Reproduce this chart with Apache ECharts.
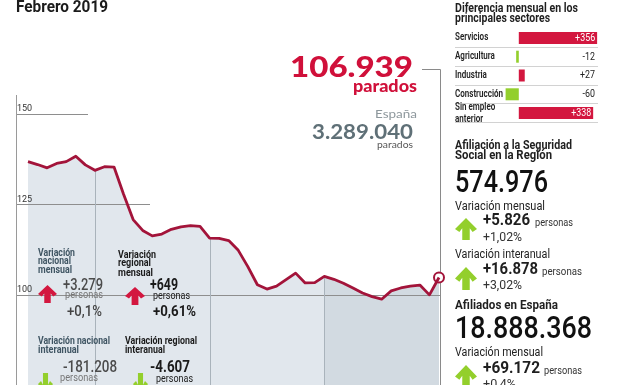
<!DOCTYPE html>
<html><head><meta charset="utf-8">
<script src="https://cdn.jsdelivr.net/npm/echarts@6/dist/echarts.min.js"></script>
<style>html,body{margin:0;padding:0;background:#fff}#c{width:622px;height:385px}</style>
</head><body><div id="c"></div>
<script>
// ---- data ----
const months = ['jul 2015','ago 2015','sep 2015','oct 2015','nov 2015','dic 2015',
 'ene 2016','feb 2016','mar 2016','abr 2016','may 2016','jun 2016','jul 2016','ago 2016','sep 2016','oct 2016','nov 2016','dic 2016',
 'ene 2017','feb 2017','mar 2017','abr 2017','may 2017','jun 2017','jul 2017','ago 2017','sep 2017','oct 2017','nov 2017','dic 2017',
 'ene 2018','feb 2018','mar 2018','abr 2018','may 2018','jun 2018','jul 2018','ago 2018','sep 2018','oct 2018','nov 2018','dic 2018',
 'ene 2019','feb 2019'];
const parados = [136.7,135.9,135.0,136.2,136.7,138.2,135.8,134.3,135.3,135.2,127.7,120.7,117.7,116.2,116.7,118.0,118.7,119.0,118.8,
 115.6,115.5,114.9,112.2,107.7,102.7,101.5,102.3,104.1,105.9,103.2,103.3,105.0,104.2,103.1,101.8,100.4,99.4,98.7,101.0,101.8,102.3,102.6,99.9,104.7];
const yTicks = [100,125,150];
const yearMarks = ['feb 2016','feb 2017','feb 2018'];
const sectors = ['Servicios','Agricultura','Industria','Construcción','Sin empleo\nanterior'];
const sectorDiff = [356,-12,27,-60,338];

// ---- style ----
const F = "Roboto, 'Open Sans', sans-serif";
const FL = "Lato, 'Open Sans', Roboto, sans-serif";
const RED = '#d3173f', LINE = '#a3143a', GREEN = '#93cf2c';
const mctx = document.createElement('canvas').getContext('2d');
function measure(t, size, weight, fam){ mctx.font = weight+' '+size+'px '+fam; return mctx.measureText(t).width; }
function T(text, x, y, size, weight, color, w, align, fam){
  fam = fam || F;
  const sx = w ? w / measure(text, size, weight, fam) : 1;
  return {type:'text', x:x, y:y, scaleX:sx, z:20, zlevel:0, silent:true,
    style:{text:text, x:0, y:0, fill:color, fontSize:size, fontWeight:weight, fontFamily:fam,
      align:align||'left', verticalAlign:'middle'}};
}
function arrow(x, y, w, h, color, down){
  const cx = x + w/2;
  let pts = [[0,0],[0.5,0.5],[0.3,0.64],[0.17,0.47],[0.17,1],[-0.17,1],[-0.17,0.47],[-0.3,0.64],[-0.5,0.5]];
  pts = pts.map(p => [cx + p[0]*w, down ? y + (1-p[1])*h : y + p[1]*h]);
  return {type:'polygon', shape:{points:pts}, style:{fill:color}, z:20, silent:true};
}
const fmt = v => (v > 0 ? '+' : '') + v;

const chart = echarts.init(document.getElementById('c'), null, {renderer:'canvas'});
const darkStart = months.indexOf('feb 2018');
const last = parados.length - 1;
const AXMIN = -290, AXMAX = 360;

chart.setOption({
  animation:false,
  grid:[{left:28, top:95.4, width:411, height:313.6},
        {left:455, top:28.5, width:143, height:94}],
  xAxis:[{type:'category', gridIndex:0, data:months, boundaryGap:false, show:false},
         {type:'value', gridIndex:1, min:AXMIN, max:AXMAX, show:false}],
  yAxis:[{type:'value', gridIndex:0, min:75, max:155, interval:25, offset:12, z:10,
          axisLine:{show:true, lineStyle:{color:'#9a9a9a', width:1}},
          axisTick:{show:false}, splitLine:{show:false},
          axisLabel:{inside:true, margin:1, verticalAlign:'bottom', fontSize:9, color:'#333', fontFamily:F,
            formatter: v => yTicks.includes(v) ? String(v) : ''}},
         {type:'category', gridIndex:1, data:sectors, inverse:true, axisLine:{show:false}, axisTick:{show:false},
          axisLabel:{show:false},
          splitLine:{show:true, interval:0, showMinLine:false, lineStyle:{color:'#d2d2d2', width:1}}}],
  series:[
    {type:'line', xAxisIndex:0, yAxisIndex:0, data:parados, symbol:'none', silent:true, z:1,
     lineStyle:{width:0}, areaStyle:{color:'#e1e7ed', opacity:1, origin:'start'}},
    {type:'line', xAxisIndex:0, yAxisIndex:0, data:parados.map((v,i)=> i>=darkStart ? v : null), symbol:'none', silent:true, z:2,
     lineStyle:{width:0}, areaStyle:{color:'#d2dae1', opacity:1, origin:'start'}},
    {type:'line', xAxisIndex:0, yAxisIndex:0, data:parados, symbol:'none', silent:true, z:5,
     lineStyle:{color:LINE, width:2.8, join:'round'},
     markPoint:{symbol:'circle', symbolSize:10, silent:true, label:{show:false},
       itemStyle:{color:'#fff', borderColor:LINE, borderWidth:2},
       data:[{coord:[months[last], parados[last]]}]}},
    {type:'bar', xAxisIndex:1, yAxisIndex:1, barWidth:12, silent:true, z:3,
     data: sectorDiff.map(v => ({value:v, itemStyle:{color: v < 0 ? GREEN : RED}}))}
  ]
});

// ---- overlays positioned through the axes ----
const g = [];
const gridExt = [[150, 88],[125,150],[100,440]];
gridExt.forEach(([v, xe]) => {
  const y = Math.round(chart.convertToPixel({yAxisIndex:0}, v)) + 0.5;
  g.push({type:'line', shape:{x1:16, y1:y, x2:xe, y2:y}, style:{stroke:'#8e8e8e', lineWidth:1}, z:3, silent:true});
});
yearMarks.forEach(m => {
  const i = months.indexOf(m);
  const p = chart.convertToPixel({xAxisIndex:0, yAxisIndex:0}, [i, parados[i]]);
  const x = Math.round(p[0]) + 0.5;
  g.push({type:'line', shape:{x1:x, y1:p[1], x2:x, y2:385}, style:{stroke:'#a9b3bb', lineWidth:1}, z:3, silent:true});
});
// connector from headline to last point
g.push({type:'polyline', shape:{points:[[422,69.5],[440.5,69.5],[440.5,385]]}, style:{stroke:'#8a8a8a', lineWidth:1, fill:null}, z:4, silent:true});

// headline
g.push(T('Febrero 2019', 16, 8, 16, 700, '#1b1b1b', 92));
g.push(T('106.939', 413, 67.5, 29, 900, '#d0103a', 123, 'right', FL));
g.push(T('parados', 417, 87, 16, 900, '#d0103a', 64, 'right', FL));
g.push(T('España', 417, 114.5, 12, 400, '#8d979c', 42, 'right', FL));
g.push(T('3.289.040', 413, 132.5, 20, 700, '#5f7077', 101, 'right', FL));
g.push(T('parados', 413, 144.8, 10, 400, '#555', 36, 'right', FL));

// chart annotations
const SL = '#3f5563', BK = '#1a1a1a';
g.push(T('Variación', 38, 253.6, 10, 700, SL, 37));
g.push(T('nacional', 38, 261.8, 10, 700, SL, 33));
g.push(T('mensual', 38, 270, 10, 700, SL, 34));
g.push(arrow(38, 285, 19, 18, RED));
g.push(T('+3.279', 63, 286, 16, 500, '#4b4b4b', 40));
g.push(T('personas', 65, 295.3, 11, 400, '#777', 38));
g.push(T('+0,1%', 67, 312.3, 14, 500, '#444', 35));

g.push(T('Variación', 118, 255.6, 10, 700, BK, 38));
g.push(T('regional', 118, 263.8, 10, 700, BK, 33));
g.push(T('mensual', 118, 273, 10, 700, BK, 35));
g.push(arrow(125, 287, 20, 18, RED));
g.push(T('+649', 150, 286, 16, 700, BK, 28));
g.push(T('personas', 153, 296, 11, 400, BK, 37));
g.push(T('+0,61%', 153, 312.3, 14, 700, BK, 43));

g.push(T('Variación nacional', 38, 341.4, 10, 700, SL, 72));
g.push(T('interanual', 38, 350.4, 10, 700, SL, 41));
g.push(arrow(38, 373, 15, 22, GREEN, true));
g.push(T('-181.208', 63, 368, 16, 500, '#4b4b4b', 54));
g.push(T('personas', 60, 378.5, 11, 400, '#777', 38));

g.push(T('Variación regional', 125, 341.4, 10, 700, BK, 72));
g.push(T('interanual', 125, 350.4, 10, 700, BK, 40));
g.push(arrow(133, 373, 15, 22, GREEN, true));
g.push(T('-4.607', 150, 368, 16, 700, BK, 40));
g.push(T('personas', 156, 379, 11, 400, BK, 37));

// right panel
const DK = '#1f1f1f';
g.push(T('Diferencia mensual en los', 455, 8.6, 13, 700, DK, 123));
g.push(T('principales sectores', 455, 18.8, 13, 700, DK, 95));

const sxLab = 48 / measure('Construcción', 10, 600, F);
const sxVal = 20 / measure('+356', 11.5, 400, F);
sectors.forEach((s, i) => {
  const cy = chart.convertToPixel({yAxisIndex:1}, i);
  const lines = s.split('\n');
  lines.forEach((ln, k) => {
    const t = T(ln, 455, cy + (k - (lines.length-1)/2) * 12, 10, 600, '#222');
    t.scaleX = sxLab; g.push(t);
  });
  const v = sectorDiff[i];
  const inside = v > 100;
  const xr = inside ? chart.convertToPixel({xAxisIndex:1}, v) - 2 : chart.convertToPixel({xAxisIndex:1}, AXMAX) - 3;
  const t = T(fmt(v), xr, cy, 11.5, 400, inside ? '#fff' : '#222', null, 'right');
  t.scaleX = sxVal; g.push(t);
});

g.push(T('Afiliación a la Seguridad', 455, 146.2, 13, 700, DK, 117));
g.push(T('Social en la Región', 455, 156, 13, 700, DK, 97));
g.push(T('574.976', 455, 183.5, 32, 500, '#111', 93));
g.push(T('Variación mensual', 455, 207.4, 12, 400, '#222', 90));
g.push(arrow(455, 218, 22, 22, GREEN));
g.push(T('+5.826', 483, 220.8, 16, 700, DK, 47));
g.push(T('personas', 535, 223, 11, 400, '#333', 38));
g.push(T('+1,02%', 483, 237.5, 12, 400, '#333', 39));
g.push(T('Variación interanual', 455, 255.4, 12, 400, '#222', 95));
g.push(arrow(455, 267, 22, 23, GREEN));
g.push(T('+16.878', 483, 270, 16, 700, DK, 55));
g.push(T('personas', 542, 272.5, 11, 400, '#333', 40));
g.push(T('+3,02%', 483, 285.5, 12, 400, '#333', 39));
g.push(T('Afiliados en España', 455, 306, 13, 700, DK, 103));
g.push(T('18.888.368', 455, 330, 32, 500, '#111', 137));
g.push(T('Variación mensual', 455, 352.8, 12, 400, '#222', 88));
g.push(arrow(455, 365, 22, 23, GREEN));
g.push(T('+69.172', 483, 369.2, 16, 700, DK, 57));
g.push(T('personas', 544, 371, 11, 400, '#333', 38));
g.push(T('+0,4%', 483, 384.5, 12, 400, '#333', 33));

chart.setOption({graphic:{elements:g}});
</script></body></html>
